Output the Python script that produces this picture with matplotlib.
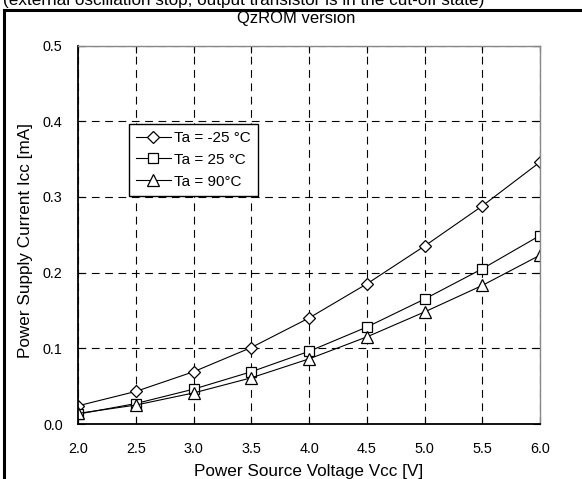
import matplotlib
matplotlib.use("Agg")
import matplotlib.pyplot as plt
from matplotlib.patches import Rectangle

plt.rcParams['font.family'] = ['Liberation Sans', 'DejaVu Sans']

voltage = [2.0, 2.5, 3.0, 3.5, 4.0, 4.5, 5.0, 5.5, 6.0]
icc_m25 = [0.024, 0.043, 0.069, 0.101, 0.140, 0.185, 0.235, 0.288, 0.346]
icc_25 = [0.013, 0.027, 0.046, 0.069, 0.096, 0.128, 0.165, 0.205, 0.249]
icc_90 = [0.014, 0.025, 0.041, 0.061, 0.086, 0.115, 0.148, 0.183, 0.223]
labels = ["Ta = -25 °C", "Ta = 25 °C", "Ta = 90°C"]
xticks = [2.0, 2.5, 3.0, 3.5, 4.0, 4.5, 5.0, 5.5, 6.0]
yticks = [0.0, 0.1, 0.2, 0.3, 0.4, 0.5]

W, H = 582, 479
fig = plt.figure(figsize=(W / 100, H / 100), dpi=100)
ax = fig.add_axes([78 / W, 1 - 424 / H, (540 - 78) / W, (424 - 45.5) / H])

# outer border box (extends beyond right/bottom edges)
fig.patches.append(Rectangle((4.4 / W, -0.1), 1.2, 1 - 9.7 / H + 0.1,
                             transform=fig.transFigure, fill=False,
                             edgecolor='black', linewidth=2.2))

fig.text(3 / W, 1 - 5 / H,
         "(external oscillation stop, output transistor is in the cut-off state)",
         fontsize=12.3, ha='left', va='baseline')
fig.text(296 / W, 1 - 22.7 / H, "QzROM version", fontsize=12, ha='center', va='baseline')

mk = dict(color='black', linewidth=0.8, markerfacecolor='white',
          markeredgecolor='black', markeredgewidth=0.9)
ax.plot(voltage, icc_m25, marker='D', markersize=6.5, label=labels[0], **mk)
ax.plot(voltage, icc_25, marker='s', markersize=7.5, label=labels[1], **mk)
ax.plot(voltage, icc_90, marker='^', markersize=8, label=labels[2], **mk)

ax.set_xlim(2.0, 6.0)
ax.set_ylim(0.0, 0.5)
ax.set_xticks(xticks)
ax.set_xticklabels([f"{v:.1f}" for v in xticks])
ax.set_yticks(yticks)
ax.set_yticklabels([f"{v:.1f}" for v in yticks])
ax.tick_params(direction='in', length=5, width=0.8, top=True, right=True,
               labelsize=10.4, colors='black')
ax.tick_params(axis='x', pad=13)
ax.tick_params(axis='y', pad=11)
ax.grid(True, color='black', linestyle=(0, (7, 5)), linewidth=0.8)

for s in ['left', 'bottom']:
    ax.spines[s].set_color('black')
    ax.spines[s].set_linewidth(1.3)
for s in ['top', 'right']:
    ax.spines[s].set_color('#888888')
    ax.spines[s].set_linewidth(1.0)

ax.set_xlabel("Power Source Voltage Vcc [V]", fontsize=12.3)
ax.set_ylabel("Power Supply Current Icc [mA]", fontsize=12.3)
ax.xaxis.set_label_coords(309 / W, 1 - 464 / H, transform=fig.transFigure)
ax.yaxis.set_label_coords(33.5 / W, 1 - 240 / H, transform=fig.transFigure)

leg = ax.legend(loc='upper left', bbox_to_anchor=(129 / W, 1 - 124 / H),
                bbox_transform=fig.transFigure, fontsize=11, frameon=True,
                fancybox=False, handlelength=2.3, handletextpad=0.2,
                borderpad=0.45, labelspacing=0.52, borderaxespad=0)
leg.get_frame().set_edgecolor('black')
leg.get_frame().set_linewidth(1.0)
leg.get_frame().set_facecolor('white')
leg.get_frame().set_alpha(1)

fig.savefig("out.png", dpi=100)
